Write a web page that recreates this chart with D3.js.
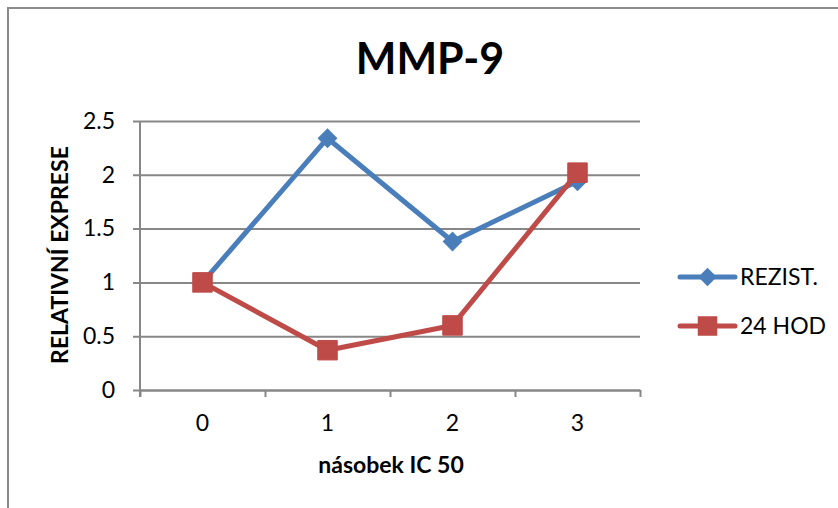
<!DOCTYPE html>
<html>
<head>
<meta charset="utf-8">
<script src="https://cdn.jsdelivr.net/npm/d3@7"></script>
<style>
  html, body { margin: 0; padding: 0; background: #fff; }
  svg { display: block; }
  text { font-family: Lato, "Open Sans", "Liberation Sans", sans-serif; fill: #000; }
</style>
</head>
<body>
<svg id="chart" width="838" height="508"></svg>
<script>
// Data
const categories = ["0", "1", "2", "3"];
const rezistValues = [1.0, 2.34, 1.38, 1.94];
const hod24Values = [1.0, 0.37, 0.60, 2.02];
const yTickValues = [0, 0.5, 1, 1.5, 2, 2.5];
const yTickLabels = ["0", "0.5", "1", "1.5", "2", "2.5"];
const seriesNames = ["REZIST.", "24 HOD"];
const chartTitle = "MMP-9";
const xTitle = "násobek IC 50";
const yTitle = "RELATIVNÍ EXPRESE";

const blue = "#4A7EBB";
const red = "#BE4B48";
const gridColor = "#878787";
const labelSize = 23;

const svg = d3.select("#chart");

// Outer frame
svg.append("rect")
  .attr("x", 8).attr("y", 8)
  .attr("width", 900).attr("height", 600)
  .attr("fill", "#fff")
  .attr("stroke", "#8a8a8a")
  .attr("stroke-width", 2);

const plot = { left: 140, right: 640, top: 121, bottom: 390 };

const x = d3.scaleBand().domain(categories).range([plot.left, plot.right]);
const xEdges = d3.scaleLinear().domain([0, categories.length]).range([plot.left, plot.right]);
const y = d3.scaleLinear().domain([0, 2.5]).range([plot.bottom, plot.top]);

// Y axis with gridlines
const yAxis = svg.append("g")
  .attr("transform", `translate(${plot.left},0)`)
  .call(d3.axisLeft(y)
    .tickValues(yTickValues)
    .tickFormat((d, i) => yTickLabels[i])
    .tickSizeInner(-(plot.right - plot.left))
    .tickSizeOuter(0)
    .tickPadding(25));
yAxis.select(".domain").attr("stroke", gridColor).attr("stroke-width", 2)
  .attr("d", `M0,${plot.top}V${plot.bottom + 7}`);
yAxis.selectAll(".tick line")
  .attr("x1", -7)
  .attr("stroke", gridColor).attr("stroke-width", 2);
yAxis.selectAll(".tick text")
  .attr("font-size", labelSize).attr("fill", "#000");

// X axis: tick marks at category boundaries
const xTicks = svg.append("g")
  .attr("transform", `translate(0,${plot.bottom})`)
  .call(d3.axisBottom(xEdges)
    .tickValues(d3.range(categories.length + 1))
    .tickFormat("")
    .tickSizeInner(7)
    .tickSizeOuter(0));
xTicks.select(".domain").attr("stroke", gridColor).attr("stroke-width", 2);
xTicks.selectAll(".tick line").attr("stroke", gridColor).attr("stroke-width", 2);

// X axis: category labels
const xLabels = svg.append("g")
  .attr("transform", `translate(0,${plot.bottom})`)
  .call(d3.axisBottom(x).tickSize(0).tickPadding(25));
xLabels.select(".domain").remove();
xLabels.selectAll(".tick text").attr("font-size", labelSize).attr("fill", "#000");

// Titles
svg.append("text")
  .attr("x", 430).attr("y", 74)
  .attr("text-anchor", "middle")
  .attr("font-size", 43).attr("font-weight", "bold")
  .text(chartTitle);

svg.append("text")
  .attr("x", 391).attr("y", 473)
  .attr("text-anchor", "middle")
  .attr("font-size", labelSize).attr("font-weight", "bold")
  .text(xTitle);

svg.append("text")
  .attr("transform", "translate(68,255) rotate(-90)")
  .attr("text-anchor", "middle")
  .attr("font-size", labelSize).attr("font-weight", "bold")
  .text(yTitle);

// Series
const cx = c => x(c) + x.bandwidth() / 2;
const line = d3.line().x(d => cx(d.c)).y(d => y(d.v));
const diamond = d3.symbol().type(d3.symbolSquare).size(170);
const square = d3.symbol().type(d3.symbolSquare).size(380);

const series = [
  { name: seriesNames[0], values: rezistValues, color: blue, marker: "diamond" },
  { name: seriesNames[1], values: hod24Values, color: red, marker: "square" }
];

series.forEach(s => {
  const pts = categories.map((c, i) => ({ c, v: s.values[i] }));
  svg.append("path")
    .datum(pts)
    .attr("d", line)
    .attr("fill", "none")
    .attr("stroke", s.color)
    .attr("stroke-width", 5)
    .attr("stroke-linejoin", "round");
  svg.selectAll(null)
    .data(pts)
    .enter().append("path")
    .attr("d", s.marker === "diamond" ? diamond : square)
    .attr("transform", d => `translate(${cx(d.c)},${y(d.v)})` + (s.marker === "diamond" ? " rotate(45)" : ""))
    .attr("fill", s.color)
    .attr("stroke", s.color)
    .attr("stroke-width", 1);
});

// Legend
const legend = svg.append("g");
series.forEach((s, i) => {
  const ly = 277 + i * 49;
  const g = legend.append("g").attr("transform", `translate(680,${ly})`);
  g.append("line")
    .attr("x1", 0).attr("x2", 55)
    .attr("stroke", s.color).attr("stroke-width", 5)
    .attr("stroke-linecap", "round");
  g.append("path")
    .attr("d", s.marker === "diamond" ? diamond : square)
    .attr("transform", "translate(27.5,0)" + (s.marker === "diamond" ? " rotate(45)" : ""))
    .attr("fill", s.color);
  g.append("text")
    .attr("x", 60).attr("dy", "0.36em")
    .attr("font-size", labelSize)
    .text(s.name);
});
</script>
</body>
</html>
